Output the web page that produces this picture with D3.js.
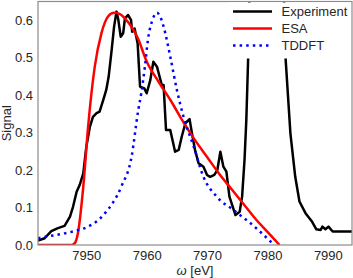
<!DOCTYPE html>
<html>
<head>
<meta charset="utf-8">
<script src="https://cdn.jsdelivr.net/npm/d3@7"></script>
<style>
  html, body { margin: 0; padding: 0; background: #fff; }
  svg { display: block; font-family: "Liberation Sans", Arial, sans-serif; }
</style>
</head>
<body>
<svg id="chart" width="353" height="278"></svg>
<script>
// Experiment
const expOmega = [7942, 7943.1, 7944.2, 7945.3, 7946.4, 7947.3, 7947.8, 7948.4, 7948.9, 7949.5,
  7950, 7950.6, 7951.1, 7951.7, 7952.2, 7952.8, 7953.3, 7953.7, 7954.2, 7954.6,
  7955, 7955.3, 7955.7, 7956.1, 7956.4, 7956.9, 7957.4, 7957.6, 7958, 7958.5,
  7958.9, 7959.6, 7960, 7960.6, 7961.1, 7961.7, 7962.5, 7962.8, 7963.2, 7963.9,
  7964.4, 7964.7, 7965.3, 7965.8, 7966.4, 7967.1, 7967.5, 7968, 7968.6, 7969.4,
  7970, 7970.5, 7971.2, 7971.7, 7972.2, 7972.7, 7973.2, 7973.7, 7974.7, 7975.4,
  7975.8, 7976.2, 7976.5, 7976.8, 7977.2, 7978.5, 7980, 7981.5, 7982.6, 7983,
  7983.8, 7984.6, 7985.3, 7986.3, 7987.4, 7988.1, 7988.8, 7989.1, 7989.6, 7990.1,
  7990.8, 7991.5, 7994];
const expSignal = [0.012, 0.018, 0.037, 0.045, 0.051, 0.076, 0.102, 0.142, 0.16, 0.191,
  0.262, 0.316, 0.342, 0.352, 0.356, 0.387, 0.414, 0.449, 0.521, 0.583,
  0.623, 0.601, 0.556, 0.565, 0.605, 0.614, 0.601, 0.569, 0.578, 0.538,
  0.423, 0.418, 0.405, 0.44, 0.489, 0.476, 0.427, 0.427, 0.307, 0.307,
  0.271, 0.249, 0.254, 0.289, 0.325, 0.336, 0.298, 0.254, 0.218, 0.209,
  0.187, 0.182, 0.187, 0.2, 0.249, 0.209, 0.196, 0.129, 0.08, 0.089,
  0.129, 0.227, 0.334, 0.498, 0.8, 1.2, 1.3, 1.2, 0.75, 0.498,
  0.298, 0.182, 0.116, 0.085, 0.062, 0.042, 0.04, 0.049, 0.042, 0.049,
  0.036, 0.036, 0.036];

// ESA
const esaOmega = [7942, 7947.6, 7948.1, 7948.6, 7949.5, 7950.3, 7951.4, 7952.5, 7953.6, 7954.6,
  7955.5, 7956.5, 7957.5, 7958.5, 7960, 7962, 7964, 7966, 7968, 7970,
  7972, 7974, 7976, 7978, 7980, 7982];
const esaSignal = [0, 0, 0.005, 0.031, 0.156, 0.316, 0.476, 0.565, 0.61, 0.62,
  0.617, 0.603, 0.582, 0.553, 0.49, 0.435, 0.385, 0.33, 0.28, 0.235,
  0.19, 0.15, 0.11, 0.07, 0.035, 0];

// TDDFT
const tdOmega = [7942, 7944, 7946.4, 7948.5, 7950.3, 7953.1, 7955.8, 7957.5, 7958.6, 7959.1,
  7959.7, 7960.2, 7961, 7961.7, 7962.3, 7962.8, 7963.9, 7965, 7966.1, 7967.8,
  7969.4, 7971.6, 7974.4, 7977.2, 7980.8];
const tdSignal = [0.018, 0.024, 0.031, 0.039, 0.049, 0.085, 0.156, 0.236, 0.36, 0.405,
  0.476, 0.547, 0.603, 0.62, 0.607, 0.583, 0.503, 0.414, 0.342, 0.262,
  0.182, 0.129, 0.093, 0.058, 0.005];

const xTicks = [7950, 7960, 7970, 7980, 7990];
const yTicks = [0.0, 0.1, 0.2, 0.3, 0.4, 0.5, 0.6];

const legendNames = ['Experiment', 'ESA', 'TDDFT'];

const svg = d3.select('#chart');
const margin = { left: 38, right: 1, top: 1.5, bottom: 33 };
const W = 353, H = 278;

const x = d3.scaleLinear().domain([7942, 7994]).range([margin.left, W - margin.right]);
const y = d3.scaleLinear().domain([0, 0.65]).range([H - margin.bottom, margin.top]);

svg.append('defs').append('clipPath').attr('id', 'plot-clip')
  .append('rect')
  .attr('x', x.range()[0]).attr('y', y.range()[1])
  .attr('width', x.range()[1] - x.range()[0])
  .attr('height', y.range()[0] - y.range()[1]);

const zip = (a, b) => a.map((v, i) => [v, b[i]]);
const line = d3.line().x(d => x(d[0])).y(d => y(d[1]));
const smooth = d3.line().x(d => x(d[0])).y(d => y(d[1])).curve(d3.curveMonotoneX);

const series = [
  { data: zip(expOmega, expSignal), color: '#000', gen: line, dash: null },
  { data: zip(esaOmega, esaSignal), color: '#ff0000', gen: smooth, dash: null },
  { data: zip(tdOmega, tdSignal), color: '#0000ff', gen: smooth, dash: '2.5,4.1' }
];

const g = svg.append('g').attr('clip-path', 'url(#plot-clip)');
series.forEach(s => {
  g.append('path')
    .attr('d', s.gen(s.data))
    .attr('fill', 'none')
    .attr('stroke', s.color)
    .attr('stroke-width', 2.5)
    .attr('stroke-linejoin', 'round')
    .attr('stroke-dasharray', s.dash);
});

// frame
svg.append('rect')
  .attr('x', x.range()[0]).attr('y', y.range()[1])
  .attr('width', x.range()[1] - x.range()[0])
  .attr('height', y.range()[0] - y.range()[1])
  .attr('fill', 'none').attr('stroke', '#8c8c8c').attr('stroke-width', 1.2);

// axes (no tick marks, like the reference)
const xAxis = svg.append('g')
  .attr('transform', `translate(0,${y.range()[0]})`)
  .call(d3.axisBottom(x).tickValues(xTicks).tickSize(0).tickPadding(6).tickFormat(d3.format('d')));
const yAxis = svg.append('g')
  .attr('transform', `translate(${x.range()[0]},0)`)
  .call(d3.axisLeft(y).tickValues(yTicks).tickSize(0).tickPadding(5).tickFormat(d3.format('.1f')));
[xAxis, yAxis].forEach(a => {
  a.select('.domain').remove();
  a.selectAll('text').attr('font-size', 13).attr('fill', '#262626')
    .attr('font-family', '"Liberation Sans", Arial, sans-serif');
});

// axis labels
svg.append('text')
  .attr('x', (x.range()[0] + x.range()[1]) / 2).attr('y', 275)
  .attr('text-anchor', 'middle').attr('font-size', 13).attr('fill', '#262626')
  .html('<tspan font-style="italic">ω</tspan> [eV]');
svg.append('text')
  .attr('transform', `translate(11,${(y.range()[0] + y.range()[1]) / 2}) rotate(-90)`)
  .attr('text-anchor', 'middle').attr('font-size', 13).attr('fill', '#262626')
  .text('Signal');

// legend
const leg = svg.append('g');
leg.append('rect')
  .attr('x', 228).attr('y', 2.5).attr('width', 123).attr('height', 56)
  .attr('fill', '#fff');
series.forEach((s, i) => {
  const ly = 11.5 + i * 17;
  leg.append('line')
    .attr('x1', 233).attr('x2', 272).attr('y1', ly).attr('y2', ly)
    .attr('stroke', s.color).attr('stroke-width', 2.5)
    .attr('stroke-dasharray', s.dash);
  leg.append('text')
    .attr('x', 281.5).attr('y', ly + 4.5)
    .attr('font-size', 13).attr('fill', '#262626')
    .text(legendNames[i]);
});
</script>
</body>
</html>
